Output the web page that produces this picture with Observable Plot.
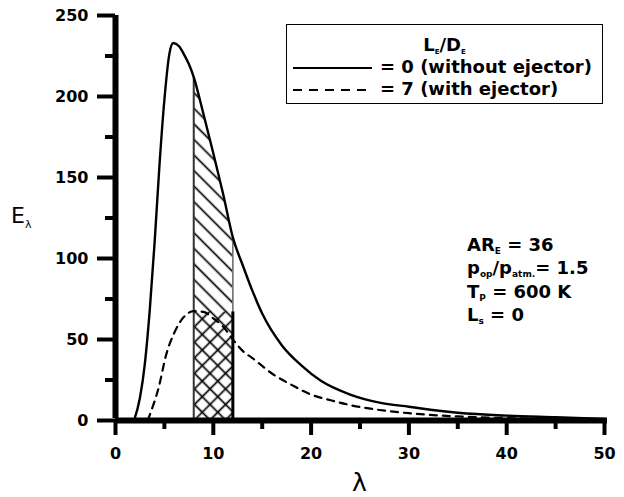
<!DOCTYPE html>
<html>
<head>
<meta charset="utf-8">
<script src="https://cdn.jsdelivr.net/npm/d3@7"></script>
<script src="https://cdn.jsdelivr.net/npm/@observablehq/plot@0.6"></script>
<style>
  html, body { margin: 0; padding: 0; background: #fff; }
  #wrap { position: relative; width: 624px; height: 497px; font-family: "DejaVu Sans", sans-serif; }
  .ov { position: absolute; white-space: nowrap; color: #000; line-height: 1; }
  .b { font-weight: bold; font-size: 18px; }
  sub { font-size: 9px; vertical-align: -3px; line-height: 0; }
</style>
</head>
<body>
<div id="wrap"></div>
<script>
// ---- data ----
const lambdaSolid = [1.9, 2.5, 3, 3.5, 4, 4.5, 5, 5.5, 5.9, 6.5, 7, 7.5, 8, 9, 10, 11, 12, 13, 14, 15, 17, 19, 21, 24, 27, 30, 35, 40, 45, 50];
const eSolid      = [0, 14, 35, 68, 110, 158, 198, 226, 233, 231, 226, 220, 212, 189, 165, 140, 113, 96, 80, 66, 46.5, 34, 24.5, 16, 11, 8.5, 4.8, 3, 2, 1];

const lambdaDash = [3.3, 3.6, 4.4, 5.2, 6, 7, 8, 9, 10, 11, 12, 13, 14, 16, 18, 20, 22, 24, 27, 30, 35, 40, 45, 50];
const eDash      = [0, 5, 20, 41, 54, 64, 67.5, 67, 63, 58, 50, 43, 38.5, 29, 22, 16, 12.5, 9.5, 6.5, 4.5, 2.5, 1.5, 1, 0.5];

const bandLambda = [8, 12];      // shaded wavelength band
const crossTop = 67;             // top of cross-hatched part

const xTicks = [0, 10, 20, 30, 40, 50];
const xMinor = [5, 15, 25, 35, 45];
const yTicks = [0, 50, 100, 150, 200, 250];
const yMinor = [25, 75, 125, 175, 225];

const solid = lambdaSolid.map((x, i) => ({x, y: eSolid[i]}));
const dashed = lambdaDash.map((x, i) => ({x, y: eDash[i]}));
const band = solid.filter(d => d.x >= bandLambda[0] && d.x <= bandLambda[1]);
const edgeL = solid.find(d => d.x === bandLambda[0]);
const edgeR = solid.find(d => d.x === bandLambda[1]);

const font = "DejaVu Sans, sans-serif";
const x0 = xTicks[0], y0 = yTicks[0];

const plot = Plot.plot({
  width: 624,
  height: 497,
  marginLeft: 115,
  marginRight: 20,
  marginTop: 15,
  marginBottom: 77,
  style: {fontFamily: font, background: "white"},
  x: {domain: [xTicks[0], xTicks[xTicks.length - 1]]},
  y: {domain: [yTicks[0], yTicks[yTicks.length - 1]]},
  marks: [
    Plot.areaY(band, {x: "x", y: "y", fill: "url(#hatchBack)", curve: "monotone-x"}),
    Plot.rectY([{x1: bandLambda[0], x2: bandLambda[1], y: crossTop}], {x1: "x1", x2: "x2", y: "y", fill: "url(#hatchFwd)"}),
    Plot.ruleX([edgeL], {x: "x", y1: 0, y2: "y", stroke: "#333", strokeWidth: 2}),
    Plot.ruleX([edgeR], {x: "x", y1: 0, y2: "y", stroke: "#666", strokeWidth: 1.5}),
    Plot.ruleX([{x: bandLambda[1], y: crossTop}], {x: "x", y1: 0, y2: "y", stroke: "#000", strokeWidth: 3}),
    Plot.line(solid, {x: "x", y: "y", stroke: "#000", strokeWidth: 2.4, curve: "monotone-x"}),
    Plot.line(dashed, {x: "x", y: "y", stroke: "#000", strokeWidth: 2.2, strokeDasharray: "7,6", curve: "monotone-x"}),
    // tick labels
    Plot.axisY({ticks: yTicks, tickSize: 0, tickPadding: 27, fontSize: 16, fontWeight: "bold", label: null, tickFormat: d => String(d)}),
    Plot.axisX({ticks: xTicks, tickSize: 0, tickPadding: 27, fontSize: 16, fontWeight: "bold", label: null, tickFormat: d => String(d)}),
    // thick outward ticks
    Plot.ruleY(yTicks, {y: d => d, x1: x0, x2: x0, insetLeft: -18, stroke: "#000", strokeWidth: 4}),
    Plot.ruleY(yMinor, {y: d => d, x1: x0, x2: x0, insetLeft: -10, stroke: "#000", strokeWidth: 4}),
    Plot.ruleX(xTicks, {x: d => d, y1: y0, y2: y0, insetBottom: -15, stroke: "#000", strokeWidth: 4}),
    Plot.ruleX(xMinor, {x: d => d, y1: y0, y2: y0, insetBottom: -9, stroke: "#000", strokeWidth: 4}),
    // axis lines
    Plot.ruleX([x0], {y1: yTicks[0], y2: yTicks[yTicks.length - 1], insetTop: -2, stroke: "#000", strokeWidth: 6}),
    Plot.ruleY([y0], {x1: xTicks[0], x2: xTicks[xTicks.length - 1], insetRight: -3, stroke: "#000", strokeWidth: 6})
  ]
});

plot.querySelectorAll("text").forEach(t => { t.style.fontWeight = "bold"; t.style.fill = "#000"; });

// hatch patterns
const ns = "http://www.w3.org/2000/svg";
const defs = document.createElementNS(ns, "defs");
defs.innerHTML = `
  <pattern id="hatchBack" patternUnits="userSpaceOnUse" width="11" height="11" patternTransform="rotate(45)">
    <line x1="0" y1="5.5" x2="11" y2="5.5" stroke="#000" stroke-width="1.7"/>
  </pattern>
  <pattern id="hatchFwd" patternUnits="userSpaceOnUse" width="11" height="11" patternTransform="rotate(-45)">
    <line x1="0" y1="5.5" x2="11" y2="5.5" stroke="#000" stroke-width="1.7"/>
  </pattern>`;
plot.insertBefore(defs, plot.firstChild);

const wrap = document.getElementById("wrap");
wrap.appendChild(plot);

function addHTML(html) { wrap.insertAdjacentHTML("beforeend", html); }

// axis titles
addHTML(`<div class="ov" style="left:11px;top:205px;font-size:22px;">E<sub style="font-size:11px;vertical-align:-5px;">λ</sub></div>`);
addHTML(`<div class="ov" style="left:352px;top:470px;font-size:25px;">λ</div>`);

// legend
addHTML(`<div class="ov" style="left:286px;top:24px;width:315px;height:78px;border:1.5px solid #000;background:#fff;">
  <div class="ov b" style="left:0;width:315px;text-align:center;top:11px;">L<sub style="font-size:7px;">E</sub>/D<sub style="font-size:7px;">E</sub></div>
  <svg class="ov" style="left:6px;top:41px;" width="80" height="4"><line x1="0" y1="2" x2="79" y2="2" stroke="#000" stroke-width="2"/></svg>
  <div class="ov b" style="left:93px;top:33px;">= 0 (without ejector)</div>
  <svg class="ov" style="left:6px;top:63px;" width="80" height="4"><line x1="0" y1="2" x2="79" y2="2" stroke="#000" stroke-width="2" stroke-dasharray="9,7"/></svg>
  <div class="ov b" style="left:93px;top:55px;">= 7 (with ejector)</div>
</div>`);

// annotation
addHTML(`<div class="ov b" style="left:467px;top:236px;">AR<sub>E</sub> = 36</div>`);
addHTML(`<div class="ov b" style="left:467px;top:259px;">p<sub>op</sub>/p<sub>atm.</sub>= 1.5</div>`);
addHTML(`<div class="ov b" style="left:467px;top:283px;">T<sub>P</sub> = 600 K</div>`);
addHTML(`<div class="ov b" style="left:467px;top:306px;">L<sub>s</sub> = 0</div>`);
</script>
</body>
</html>
